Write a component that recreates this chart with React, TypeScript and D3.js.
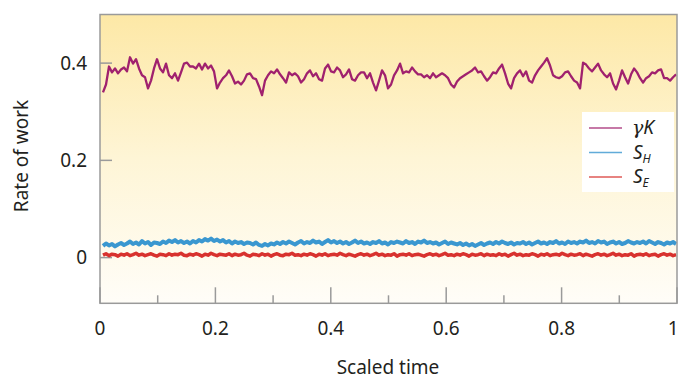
import * as d3 from 'd3';

// sampled at a fixed step in scaled time
const T_STEP = 0.0052;

const gammaK = [
  0.340, 0.356, 0.393, 0.381, 0.389, 0.379, 0.387, 0.391, 0.383, 0.412,
  0.399, 0.408, 0.389, 0.375, 0.371, 0.348, 0.364, 0.389, 0.408, 0.389,
  0.381, 0.399, 0.375, 0.369, 0.379, 0.364, 0.381, 0.399, 0.401, 0.393,
  0.393, 0.389, 0.399, 0.387, 0.399, 0.389, 0.395, 0.383, 0.348, 0.360,
  0.369, 0.375, 0.385, 0.373, 0.358, 0.362, 0.356, 0.364, 0.377, 0.379,
  0.369, 0.367, 0.352, 0.334, 0.364, 0.375, 0.383, 0.379, 0.387, 0.377,
  0.369, 0.360, 0.381, 0.375, 0.379, 0.373, 0.360, 0.367, 0.379, 0.385,
  0.373, 0.379, 0.367, 0.364, 0.389, 0.397, 0.383, 0.381, 0.391, 0.385,
  0.371, 0.377, 0.387, 0.367, 0.364, 0.375, 0.381, 0.381, 0.369, 0.379,
  0.360, 0.344, 0.364, 0.385, 0.375, 0.348, 0.356, 0.375, 0.385, 0.399,
  0.379, 0.383, 0.381, 0.391, 0.383, 0.377, 0.377, 0.371, 0.375, 0.369,
  0.379, 0.371, 0.375, 0.379, 0.375, 0.369, 0.356, 0.350, 0.362, 0.369,
  0.373, 0.377, 0.381, 0.385, 0.391, 0.381, 0.383, 0.373, 0.364, 0.371,
  0.381, 0.379, 0.389, 0.397, 0.379, 0.358, 0.348, 0.369, 0.379, 0.385,
  0.373, 0.383, 0.364, 0.360, 0.375, 0.385, 0.393, 0.401, 0.410, 0.395,
  0.375, 0.371, 0.369, 0.373, 0.381, 0.383, 0.373, 0.364, 0.360, 0.348,
  0.401, 0.397, 0.389, 0.383, 0.391, 0.399, 0.385, 0.377, 0.371, 0.379,
  0.358, 0.346, 0.364, 0.385, 0.371, 0.358, 0.377, 0.389, 0.381, 0.369,
  0.360, 0.369, 0.373, 0.381, 0.379, 0.385, 0.387, 0.369, 0.369, 0.364,
  0.371, 0.377,
];

const sH = [
  0.024, 0.029, 0.025, 0.028, 0.023, 0.027, 0.030, 0.026, 0.029,
  0.033, 0.028, 0.031, 0.027, 0.034, 0.029, 0.032, 0.026, 0.031, 0.030,
  0.028, 0.033, 0.030, 0.035, 0.032, 0.036, 0.031, 0.034, 0.030, 0.033,
  0.029, 0.034, 0.031, 0.036, 0.033, 0.038, 0.035, 0.039, 0.034, 0.037,
  0.033, 0.036, 0.031, 0.034, 0.029, 0.033, 0.030, 0.032, 0.028, 0.031,
  0.030, 0.027, 0.031, 0.026, 0.024, 0.028, 0.025, 0.029, 0.027, 0.031,
  0.028, 0.032, 0.029, 0.033, 0.030, 0.027, 0.031, 0.034, 0.029, 0.032,
  0.030, 0.035, 0.031, 0.033, 0.028, 0.032, 0.036, 0.031, 0.034, 0.030,
  0.033, 0.029, 0.032, 0.028, 0.031, 0.035, 0.030, 0.033, 0.029, 0.031,
  0.028, 0.032, 0.030, 0.034, 0.029, 0.031, 0.027, 0.032, 0.030, 0.033,
  0.031, 0.029, 0.034, 0.030, 0.032, 0.028, 0.033, 0.031, 0.035, 0.030,
  0.032, 0.029, 0.031, 0.027, 0.030, 0.033, 0.028, 0.031, 0.029, 0.027,
  0.030, 0.026, 0.029, 0.025, 0.028, 0.024, 0.027, 0.030, 0.026, 0.029,
  0.031, 0.028, 0.032, 0.029, 0.033, 0.030, 0.028, 0.031, 0.027, 0.030,
  0.029, 0.032, 0.028, 0.031, 0.027, 0.030, 0.033, 0.029, 0.031, 0.028,
  0.032, 0.030, 0.034, 0.029, 0.031, 0.028, 0.033, 0.030, 0.032, 0.029,
  0.033, 0.031, 0.035, 0.030, 0.032, 0.029, 0.034, 0.031, 0.033, 0.028,
  0.031, 0.033, 0.029, 0.032, 0.028, 0.030, 0.034, 0.031, 0.029, 0.032,
  0.030, 0.033, 0.029, 0.034, 0.031, 0.028, 0.032, 0.030, 0.027, 0.031,
  0.029, 0.032, 0.028,
];

const sE = [
  0.005, 0.008, 0.004, 0.007, 0.006, 0.003, 0.007, 0.005, 0.008, 0.004,
  0.006, 0.009, 0.005, 0.007, 0.004, 0.006, 0.008, 0.005, 0.003, 0.007,
  0.006, 0.004, 0.008, 0.005, 0.007, 0.006, 0.009, 0.005, 0.004, 0.007,
  0.005, 0.008, 0.006, 0.003, 0.007, 0.005, 0.009, 0.006, 0.004, 0.007,
  0.006, 0.005, 0.008, 0.004, 0.007, 0.005, 0.006, 0.009, 0.005, 0.003,
  0.007, 0.006, 0.004, 0.008, 0.005, 0.007, 0.003, 0.006, 0.008, 0.005,
  0.004, 0.007, 0.006, 0.009, 0.005, 0.006, 0.004, 0.007, 0.005, 0.008,
  0.006, 0.003, 0.007, 0.005, 0.008, 0.004, 0.006, 0.007, 0.005, 0.009,
  0.006, 0.004, 0.007, 0.005, 0.003, 0.006, 0.008, 0.005, 0.007, 0.004,
  0.006, 0.009, 0.005, 0.007, 0.004, 0.006, 0.005, 0.008, 0.003, 0.006,
  0.007, 0.005, 0.008, 0.004, 0.006, 0.007, 0.005, 0.003, 0.006, 0.008,
  0.005, 0.007, 0.004, 0.006, 0.009, 0.005, 0.006, 0.004, 0.007, 0.005,
  0.008, 0.006, 0.003, 0.007, 0.005, 0.006, 0.008, 0.004, 0.007, 0.005,
  0.006, 0.004, 0.008, 0.005, 0.007, 0.003, 0.006, 0.009, 0.005, 0.007,
  0.004, 0.006, 0.005, 0.008, 0.006, 0.003, 0.007, 0.005, 0.008, 0.004,
  0.006, 0.007, 0.005, 0.009, 0.006, 0.004, 0.007, 0.005, 0.006, 0.008,
  0.004, 0.007, 0.005, 0.003, 0.006, 0.008, 0.005, 0.007, 0.004, 0.006,
  0.009, 0.005, 0.007, 0.004, 0.006, 0.005, 0.008, 0.003, 0.006, 0.007,
  0.005, 0.008, 0.004, 0.006, 0.007, 0.003, 0.006, 0.008, 0.005, 0.007,
  0.004, 0.006,
];

const xTicks = [0, 0.2, 0.4, 0.6, 0.8, 1];
const xMinor = [0.1, 0.3, 0.5, 0.7, 0.9];
const yTicks = [0, 0.2, 0.4];

const series = [
  { key: 'gK', values: gammaK, color: '#a0216e', width: 2.3 },
  { key: 'sH', values: sH, color: '#3a97d0', width: 4 },
  { key: 'sE', values: sE, color: '#d8322e', width: 3.5 },
];

const FONT = '"Noto Sans", "Open Sans", sans-serif';
const TEXT = '#231f20';
const AXIS = '#9a9a9a';
const FS = 19;

export default function App() {
  const W = 679;
  const H = 381;
  const m = { left: 100, right: 2, top: 14.5, bottom: 77.7 };
  const x = d3.scaleLinear().domain([0, 1]).range([m.left, W - m.right]);
  const y = d3.scaleLinear().domain([-0.094, 0.5]).range([H - m.bottom, m.top]);

  const mkLine = (vals: number[]) =>
    d3
      .line<number>()
      .x((_, i) => x((i + 1) * T_STEP))
      .y((d) => y(d))(vals) || '';

  const x0 = x(0);
  const x1 = x(1);
  const yTop = y(0.5);
  const yBot = y(-0.094);

  return (
    <svg
      width={W}
      height={H}
      style={{ position: 'absolute', left: 0, top: 0, background: '#fff' }}
    >
      <defs>
        <linearGradient id="bg" x1="0" y1="0" x2="0" y2="1">
          <stop offset="0" stopColor="#fde8a6" />
          <stop offset="0.5" stopColor="#fef5d6" />
          <stop offset="1" stopColor="#fffdf8" />
        </linearGradient>
        <clipPath id="plot">
          <rect x={x0} y={yTop} width={x1 - x0} height={yBot - yTop} />
        </clipPath>
      </defs>

      <rect x={x0} y={yTop} width={x1 - x0} height={yBot - yTop} fill="url(#bg)" />

      {/* ticks pointing inward */}
      {yTicks.map((t) => (
        <line key={'yt' + t} x1={x0} x2={x0 + 12} y1={y(t)} y2={y(t)} stroke={AXIS} strokeWidth={1.5} />
      ))}
      {xTicks.map((t) => (
        <line key={'xt' + t} x1={x(t)} x2={x(t)} y1={yBot} y2={yBot - 16} stroke={AXIS} strokeWidth={1.5} />
      ))}
      {xMinor.map((t) => (
        <line key={'xm' + t} x1={x(t)} x2={x(t)} y1={yBot} y2={yBot - 8} stroke={AXIS} strokeWidth={1.5} />
      ))}

      <g clipPath="url(#plot)">
        {series.map((s) => (
          <path
            key={s.key}
            d={mkLine(s.values)}
            fill="none"
            stroke={s.color}
            strokeWidth={s.width}
            strokeLinejoin="round"
          />
        ))}
      </g>

      <rect x={x0} y={yTop} width={x1 - x0} height={yBot - yTop} fill="none" stroke={AXIS} strokeWidth={1.5} />

      {/* legend */}
      <g>
        <rect x={582} y={112} width={92} height={80} fill="#fff" />
        {series.map((s, i) => (
          <line
            key={'lg' + s.key}
            x1={589}
            x2={622}
            y1={128 + i * 24.5}
            y2={128 + i * 24.5}
            stroke={s.color}
            strokeWidth={1.5}
            opacity={0.8}
          />
        ))}
        <text x={632} y={134} fontFamily={FONT} fontSize={19} fill={TEXT} fontStyle="italic">
          <tspan fontFamily='"DejaVu Serif", serif'>γ</tspan>K
        </text>
        <text x={633} y={159} fontFamily={FONT} fontSize={19} fill={TEXT} fontStyle="italic">
          S
          <tspan fontSize={12} dy={4}>H</tspan>
        </text>
        <text x={633} y={183} fontFamily={FONT} fontSize={19} fill={TEXT} fontStyle="italic">
          S
          <tspan fontSize={12} dy={4}>E</tspan>
        </text>
      </g>

      {yTicks.map((t) => (
        <text
          key={'yl' + t}
          x={87}
          y={y(t)}
          dy="0.35em"
          textAnchor="end"
          fontFamily={FONT}
          fontSize={FS}
          fill={TEXT}
        >
          {t === 0 ? '0' : t.toFixed(1)}
        </text>
      ))}
      {xTicks.map((t) => (
        <text
          key={'xl' + t}
          x={t === 1 ? W - 0.5 : x(t)}
          y={335}
          textAnchor={t === 1 ? 'end' : 'middle'}
          fontFamily={FONT}
          fontSize={FS}
          fill={TEXT}
        >
          {t === 0 || t === 1 ? String(t) : t.toFixed(1)}
        </text>
      ))}

      <text x={388} y={374} textAnchor="middle" fontFamily={FONT} fontSize={FS} fill={TEXT}>
        Scaled time
      </text>
      <text
        transform="translate(28,156) rotate(-90)"
        textAnchor="middle"
        fontFamily={FONT}
        fontSize={FS}
        fill={TEXT}
      >
        Rate of work
      </text>
    </svg>
  );
}
